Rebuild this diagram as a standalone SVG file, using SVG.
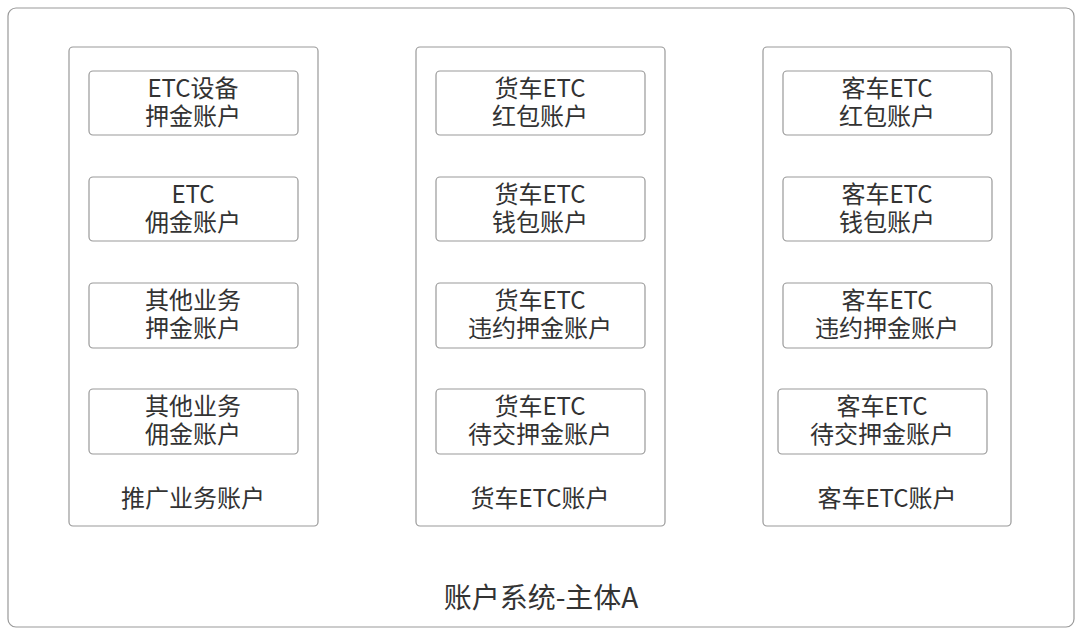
<svg xmlns="http://www.w3.org/2000/svg" width="1080" height="633" viewBox="0 0 1080 633">
<style>
rect{fill:#fff;stroke:#999;stroke-width:1.2}
text{font-family:"Noto Sans CJK SC","Noto Sans",sans-serif;font-size:24px;fill:#333;text-anchor:middle}
.big{font-size:28px}
</style>
<rect x="0" y="0" width="1080" height="633" style="stroke:none"/>
<g id="system"><rect x="8" y="8" width="1066" height="619" rx="8"/><text class="big" x="541" y="608">账户系统-主体A</text></g>
<g id="col1"><rect x="69" y="47" width="249" height="479" rx="4"/><text x="193" y="507">推广业务账户</text></g>
<g id="col2"><rect x="416" y="47" width="249" height="479" rx="4"/><text x="540" y="507">货车ETC账户</text></g>
<g id="col3"><rect x="763" y="47" width="248" height="479" rx="4"/><text x="887" y="507">客车ETC账户</text></g>
<g id="a1"><rect x="89" y="71" width="209" height="64" rx="4"/><text x="193" y="97">ETC设备</text><text x="193" y="125">押金账户</text></g>
<g id="a2"><rect x="89" y="177" width="209" height="64" rx="4"/><text x="193" y="203">ETC</text><text x="193" y="231">佣金账户</text></g>
<g id="a3"><rect x="89" y="283" width="209" height="65" rx="4"/><text x="193" y="309">其他业务</text><text x="193" y="337">押金账户</text></g>
<g id="a4"><rect x="89" y="389" width="209" height="65" rx="4"/><text x="193" y="415">其他业务</text><text x="193" y="443">佣金账户</text></g>
<g id="b1"><rect x="436" y="71" width="209" height="64" rx="4"/><text x="540" y="97">货车ETC</text><text x="540" y="125">红包账户</text></g>
<g id="b2"><rect x="436" y="177" width="209" height="64" rx="4"/><text x="540" y="203">货车ETC</text><text x="540" y="231">钱包账户</text></g>
<g id="b3"><rect x="436" y="283" width="209" height="65" rx="4"/><text x="540" y="309">货车ETC</text><text x="540" y="337">违约押金账户</text></g>
<g id="b4"><rect x="436" y="389" width="209" height="65" rx="4"/><text x="540" y="415">货车ETC</text><text x="540" y="443">待交押金账户</text></g>
<g id="c1"><rect x="783" y="71" width="209" height="64" rx="4"/><text x="887" y="97">客车ETC</text><text x="887" y="125">红包账户</text></g>
<g id="c2"><rect x="783" y="177" width="209" height="64" rx="4"/><text x="887" y="203">客车ETC</text><text x="887" y="231">钱包账户</text></g>
<g id="c3"><rect x="783" y="283" width="209" height="65" rx="4"/><text x="887" y="309">客车ETC</text><text x="887" y="337">违约押金账户</text></g>
<g id="c4"><rect x="778" y="389" width="209" height="65" rx="4"/><text x="882" y="415">客车ETC</text><text x="882" y="443">待交押金账户</text></g>
<g id="connectors"/>
</svg>
